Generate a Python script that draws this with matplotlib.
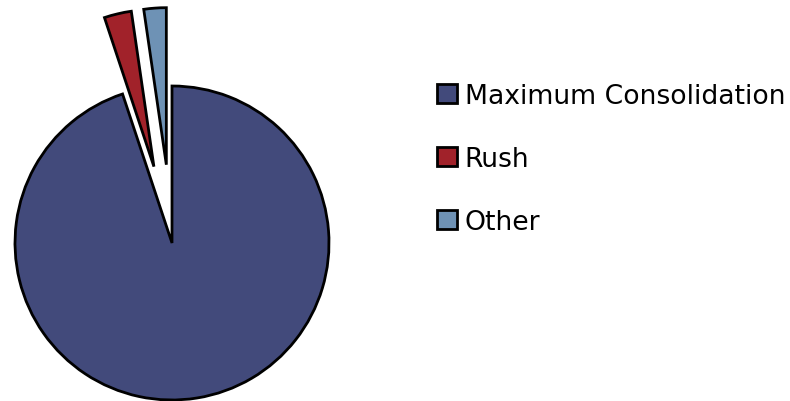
import matplotlib.pyplot as plt

labels = ["Maximum Consolidation", "Rush", "Other"]
shares = [94.9, 2.8, 2.3]
colors = ["#424A7B", "#A1222A", "#6E92B5"]
explode = [0, 0.5, 0.5]

W, H = 790, 402
fig = plt.figure(figsize=(W / 100, H / 100), dpi=100)

# pie centre (px from left/top) and radius in px
cx, cy, r = 172, 244, 157
ax_w = 420
ax = fig.add_axes([0, 0, ax_w / W, 1])
wedges, _ = ax.pie(shares, colors=colors, explode=explode, startangle=90,
                   counterclock=False,
                   wedgeprops=dict(edgecolor="black", linewidth=2))
ax.set_aspect("auto")
ax.set_xlim(-cx / r, (ax_w - cx) / r)
ax.set_ylim(-(H - cy) / r, cy / r)
ax.axis("off")

fig.legend(wedges, labels, loc="upper left", bbox_to_anchor=(437 / W, 1 - 84 / H),
           frameon=False, fontsize=19.2, handlelength=0.74, handleheight=0.74,
           handletextpad=0.3, labelspacing=1.38, borderaxespad=0, borderpad=0)

fig.savefig("out.png", dpi=100)
